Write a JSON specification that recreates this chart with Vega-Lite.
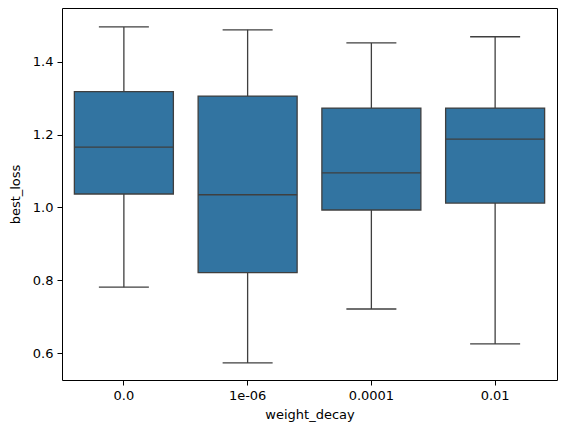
{
  "$schema": "https://vega.github.io/schema/vega-lite/v6.json",
  "width": 495,
  "height": 372,
  "autosize": "none",
  "padding": {"left": 62, "top": 8, "right": 10, "bottom": 53},
  "background": "white",
  "config": {
    "font": "DejaVu Sans",
    "view": {"stroke": "black", "strokeWidth": 1},
    "axis": {
      "domain": false,
      "grid": false,
      "tickColor": "black",
      "tickSize": 5,
      "labelColor": "black",
      "labelFontSize": 13,
      "labelPadding": 4,
      "titleColor": "black",
      "titleFontSize": 13,
      "titleFontWeight": "normal"
    }
  },
  "data": {
    "values": [
      {"weight_decay": "0.0", "min": 0.781, "q1": 1.037, "median": 1.166, "q3": 1.318, "max": 1.496},
      {"weight_decay": "1e-06", "min": 0.573, "q1": 0.821, "median": 1.035, "q3": 1.306, "max": 1.488},
      {"weight_decay": "0.0001", "min": 0.721, "q1": 0.993, "median": 1.095, "q3": 1.273, "max": 1.452},
      {"weight_decay": "0.01", "min": 0.625, "q1": 1.012, "median": 1.188, "q3": 1.273, "max": 1.469}
    ]
  },
  "encoding": {
    "x": {
      "field": "weight_decay",
      "type": "nominal",
      "sort": ["0.0", "1e-06", "0.0001", "0.01"],
      "scale": {"type": "band", "paddingInner": 0, "paddingOuter": 0},
      "axis": {"title": "weight_decay", "labelAngle": 0, "titlePadding": 6}
    }
  },
  "layer": [
    {
      "mark": {"type": "rule", "color": "#3f3f3f", "strokeWidth": 1.3},
      "encoding": {
        "y": {
          "field": "min",
          "type": "quantitative",
          "scale": {"domain": [0.526, 1.548], "nice": false, "zero": false},
          "axis": {"title": "best_loss", "values": [0.6, 0.8, 1.0, 1.2, 1.4], "format": ".1f", "titlePadding": 10}
        },
        "y2": {"field": "max"}
      }
    },
    {
      "mark": {"type": "bar", "width": {"band": 0.8}, "fill": "#3274a1", "stroke": "#3f3f3f", "strokeWidth": 1.3},
      "encoding": {
        "y": {"field": "q1", "type": "quantitative"},
        "y2": {"field": "q3"}
      }
    },
    {
      "mark": {"type": "tick", "size": 99, "thickness": 1.3, "color": "#3f3f3f", "opacity": 1},
      "encoding": {"y": {"field": "median", "type": "quantitative"}}
    },
    {
      "mark": {"type": "tick", "size": 50, "thickness": 1.3, "color": "#3f3f3f", "opacity": 1},
      "encoding": {"y": {"field": "min", "type": "quantitative"}}
    },
    {
      "mark": {"type": "tick", "size": 50, "thickness": 1.3, "color": "#3f3f3f", "opacity": 1},
      "encoding": {"y": {"field": "max", "type": "quantitative"}}
    }
  ]
}
